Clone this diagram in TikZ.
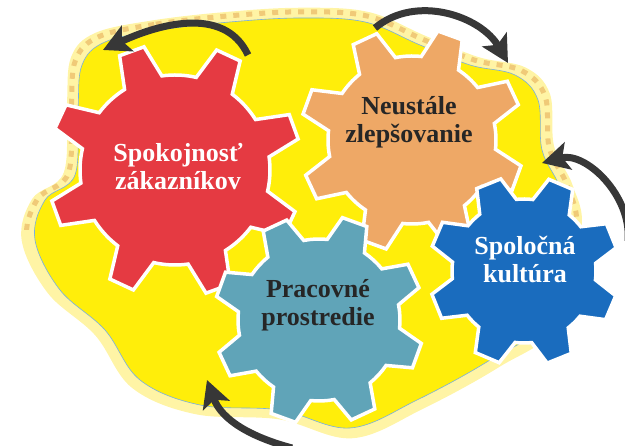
\documentclass[tikz,border=0pt]{standalone}
\usepackage{fontspec}
\setmainfont{Liberation Serif}
\usetikzlibrary{arrows.meta}
\definecolor{gearred}{RGB}{229,58,66}
\definecolor{gearorange}{RGB}{238,168,102}
\definecolor{gearteal}{RGB}{96,164,184}
\definecolor{gearblue}{RGB}{26,108,190}
\definecolor{blobyellow}{RGB}{255,238,10}
\definecolor{haloyellow}{RGB}{255,244,165}
\definecolor{dashtan}{RGB}{240,202,120}
\definecolor{edgeblue}{RGB}{120,175,225}
\definecolor{arrowgray}{RGB}{55,55,55}
\tikzset{
  gearfill/.style={fill=#1, draw=white, line width=3.5pt, line join=miter},
  label/.style={font=\bfseries\fontsize{26}{28}\selectfont, align=center},
  turn/.style={draw=arrowgray, line width=7pt, -{Stealth[length=27pt,width=28pt,inset=6pt]}}
}
% gear: center x, center y, tip radius, body radius, first tooth angle, colour
\newcommand{\gearwheel}[6]{%
  \begin{scope}[shift={(#1,#2)}]
    \pgfmathsetmacro\ta{13/#3*57.3}
    \pgfmathsetmacro\tb{20/#4*57.3}
    \path[gearfill=#6] ({#5-\tb}:#4)
      \foreach \i in {0,...,7}{
        -- ({#5+45*\i-\ta}:#3) -- ({#5+45*\i+\ta}:#3) -- ({#5+45*\i+\tb}:#4)
        arc[start angle={#5+45*\i+\tb}, end angle={#5+45*(\i+1)-\tb}, radius=#4]
      } -- cycle;
  \end{scope}}
\newcommand{\blob}{plot[smooth cycle, tension=.6] coordinates {
  (105,404) (160,416) (230,424) (300,428) (365,424) (420,401) (470,381)
  (515,371) (538,346) (542,296) (560,258) (568,215) (545,126) (490,86)
  (417,46) (350,18) (280,36) (200,41) (140,66) (105,116)
  (60,156) (35,206) (45,246) (75,271) (78,336) (82,381)}}
\begin{document}
\begin{tikzpicture}[x=1pt,y=1pt]
  \useasboundingbox (0,0) rectangle (625,446);
  \clip (0,0) rectangle (625,446);
  % background blob
  \fill[haloyellow, scale around={1.05:(300,223)}] \blob;
  \begin{scope}
    \clip (0,215) rectangle (625,446);
    \draw[dashtan, line width=5pt, dash pattern=on 6pt off 7pt, scale around={1.03:(300,223)}] \blob;
  \end{scope}
  \fill[blobyellow] \blob;
  \draw[edgeblue, line width=.6pt] \blob;
  % gears
  \gearwheel{175}{276}{127}{95}{20}{gearred}
  \gearwheel{412}{306}{112}{84}{25}{gearorange}
  \gearwheel{319}{126}{105}{81}{25}{gearteal}
  \gearwheel{524}{175}{95}{72}{22}{gearblue}
  \node[label, white] (cust) at (178,279) {Spokojnosť\\zákazníkov};
  \node[label, black!85] (impr) at (409,324) {Neustále\\zlepšovanie};
  \node[label, black!85] (work) at (318,141) {Pracovné\\prostredie};
  \node[label, white] (cult) at (525,186) {Spoločná\\kultúra};
  % arrows
  \coordinate (t1) at (248,391); \coordinate (h1) at (103,396);
  \coordinate (t2) at (375,418); \coordinate (h2) at (508,383);
  \coordinate (t3) at (628,205); \coordinate (h3) at (542,283);
  \coordinate (t4) at (292,-2);  \coordinate (h4) at (207,66);
  \draw[turn] (t1) to[out=115, in=25] (h1);
  \draw[turn] (t2) to[out=40, in=120] (h2);
  \draw[turn] (t3) to[out=85, in=15] (h3);
  \draw[turn] (t4) to[out=165, in=290] (h4);
\end{tikzpicture}
\end{document}
